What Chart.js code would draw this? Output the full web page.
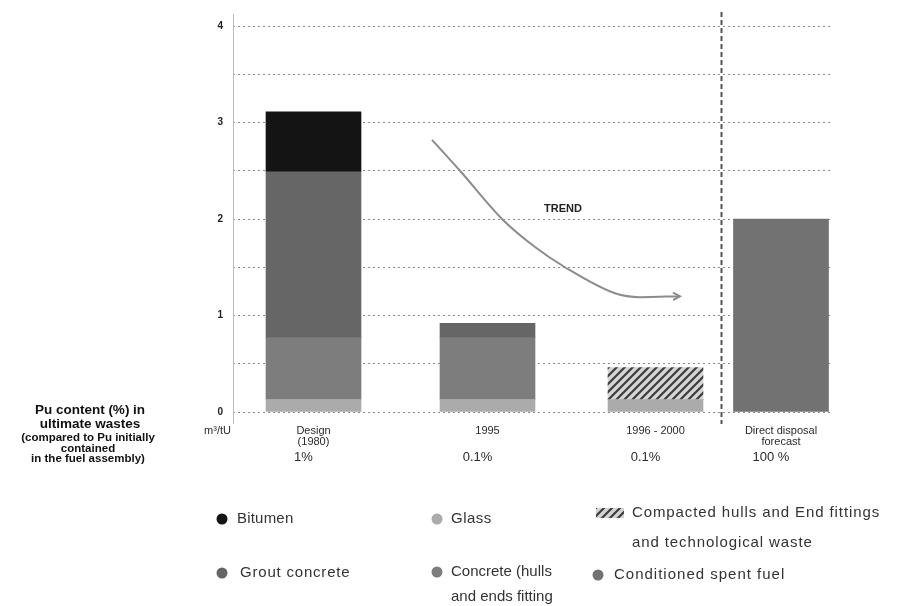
<!DOCTYPE html>
<html>
<head>
<meta charset="utf-8">
<script src="https://cdn.jsdelivr.net/npm/chart.js@4.4.1/dist/chart.umd.min.js"></script>
<style>
  html, body { margin: 0; padding: 0; background: #ffffff; }
  #wrap { width: 903px; height: 606px; }
</style>
</head>
<body>
<div id="wrap"><canvas id="c" width="903" height="606"></canvas></div>
<script>
// ---------- DATA ----------
const catPos = [1.61, 5.09, 8.45, 10.96];
const xLabels = [['Design', '(1980)'], '1995', '1996 - 2000', ['Direct disposal', 'forecast']];
const puContent = ['1%', '0.1%', '0.1%', '100 %'];
const glass         = [0.13, 0.13, 0.13, null];
const concreteHulls = [0.64, 0.64, null, null];
const groutConcrete = [1.72, 0.15, null, null];
const bitumen       = [0.62, null, null, null];
const compacted     = [null, null, 0.33, null];
const spentFuel     = [null, null, null, 2.0];
const trendX = [3.98, 4.54, 5.40, 6.04, 6.64, 7.64, 8.14, 8.94];
const trendY = [2.82, 2.50, 1.99, 1.71, 1.50, 1.23, 1.19, 1.20];
const trendLabel = 'TREND';
const trendLabelPos = [6.6, 2.1];
const separatorX = 9.76;
const unitLabel = 'm³/tU';
const leftTitle = ['Pu content (%) in', 'ultimate wastes'];
const leftNote = ['(compared to Pu initially', 'contained', 'in the fuel assembly)'];

// ---------- STYLES ----------
const FONT = '"Liberation Sans", Arial, sans-serif';
const C = {
  bitumen: '#141414', glass: '#ababab', grout: '#666666', hulls: '#7d7d7d',
  spent: '#727272', grid: '#8a8a8a', text: '#2a2a2a'
};
function hatch() {
  const p = document.createElement('canvas');
  p.width = 8; p.height = 8;
  const g = p.getContext('2d');
  g.fillStyle = '#d4d4d4'; g.fillRect(0, 0, 8, 8);
  g.strokeStyle = '#3c3c3c'; g.lineWidth = 2.2;
  g.beginPath();
  g.moveTo(-2, 10); g.lineTo(10, -2);
  g.moveTo(-2, 2); g.lineTo(2, -2);
  g.moveTo(6, 10); g.lineTo(10, 6);
  g.stroke();
  return g.createPattern(p, 'repeat');
}
const hatchPat = hatch();

const pts = arr => catPos.map((x, i) => ({ x: x, y: arr[i] }));
const barDs = (label, arr, color) => ({
  type: 'bar', label: label, data: pts(arr), backgroundColor: color,
  borderWidth: 0, barThickness: 95, yAxisID: 'y', stack: 's'
});

const datasets = [
  barDs('Glass', glass, C.glass),
  barDs('Concrete (hulls and ends fitting', concreteHulls, C.hulls),
  barDs('Grout concrete', groutConcrete, C.grout),
  barDs('Bitumen', bitumen, C.bitumen),
  barDs('Compacted hulls and End fittings and technological waste', compacted, hatchPat),
  barDs('Conditioned spent fuel', spentFuel, C.spent),
  {
    type: 'line', label: 'trend', data: trendX.map((x, i) => ({ x: x, y: trendY[i] })),
    borderColor: '#8c8c8c', borderWidth: 2, pointRadius: 0, fill: false,
    cubicInterpolationMode: 'monotone', yAxisID: 'y2', stack: 't'
  }
];

const overlay = {
  id: 'overlay',
  beforeDatasetsDraw(chart) {
    const ctx = chart.ctx, x = chart.scales.x, y = chart.scales.y;
    ctx.save();
    ctx.strokeStyle = '#bdbdbd'; ctx.lineWidth = 1;
    ctx.beginPath(); ctx.moveTo(x.left + 0.5, 14); ctx.lineTo(x.left + 0.5, y.bottom + 12); ctx.stroke();
    ctx.restore();
  },
  afterDraw(chart) {
    const ctx = chart.ctx, x = chart.scales.x, y = chart.scales.y;
    ctx.save();
    // separator
    const sx = Math.round(x.getPixelForValue(separatorX)) + 0.5;
    ctx.strokeStyle = '#555'; ctx.lineWidth = 2; ctx.setLineDash([5, 3]);
    ctx.beginPath(); ctx.moveTo(sx, 12); ctx.lineTo(sx, y.bottom + 12); ctx.stroke();
    ctx.setLineDash([]);
    // arrowhead
    const n = trendX.length;
    const ax = x.getPixelForValue(trendX[n - 1]), ay = y.getPixelForValue(trendY[n - 1]);
    const bx = x.getPixelForValue(trendX[n - 2]), by = y.getPixelForValue(trendY[n - 2]);
    const ang = Math.atan2(ay - by, ax - bx);
    ctx.strokeStyle = '#8c8c8c'; ctx.lineWidth = 2;
    ctx.beginPath();
    ctx.moveTo(ax - 8 * Math.cos(ang - 0.5), ay - 8 * Math.sin(ang - 0.5));
    ctx.lineTo(ax, ay);
    ctx.lineTo(ax - 8 * Math.cos(ang + 0.5), ay - 8 * Math.sin(ang + 0.5));
    ctx.stroke();
    // trend label
    ctx.fillStyle = '#222'; ctx.font = 'bold 11px ' + FONT;
    ctx.textAlign = 'center'; ctx.textBaseline = 'middle';
    ctx.fillText(trendLabel, x.getPixelForValue(trendLabelPos[0]), y.getPixelForValue(trendLabelPos[1]));
    // unit
    ctx.font = '11px ' + FONT; ctx.fillStyle = C.text; ctx.textAlign = 'right';
    ctx.fillText(unitLabel, x.left - 2, y.bottom + 19);
    // pu content row
    ctx.font = '13px ' + FONT; ctx.textAlign = 'center';
    puContent.forEach((t, i) => ctx.fillText(t, x.getPixelForValue(catPos[i]) - 10, y.bottom + 45));
    // left text
    ctx.font = 'bold 13.5px ' + FONT; ctx.fillStyle = '#111';
    leftTitle.forEach((t, i) => ctx.fillText(t, 90, 410 + i * 14));
    ctx.font = 'bold 11.5px ' + FONT;
    leftNote.forEach((t, i) => ctx.fillText(t, 88, 438 + i * 10.5));
    // legend
    const L = [
      { k: 'c', c: C.bitumen, x: 222, y: 519, tx: 237, ls: 0.2, t: ['Bitumen'] },
      { k: 'c', c: C.glass, x: 437, y: 519, tx: 451, ls: 0.5, t: ['Glass'] },
      { k: 's', c: hatchPat, x: 610, y: 513, tx: 632, ls: 0.9, t: ['Compacted hulls and End fittings', 'and technological waste'] },
      { k: 'c', c: C.grout, x: 222, y: 573, tx: 240, ls: 0.8, t: ['Grout concrete'] },
      { k: 'c', c: C.hulls, x: 437, y: 572, tx: 451, ls: 0, t: ['Concrete (hulls', 'and ends fitting'] },
      { k: 'c', c: C.spent, x: 598, y: 575, tx: 614, ls: 1.0, t: ['Conditioned spent fuel'] }
    ];
    ctx.font = '15px ' + FONT; ctx.textAlign = 'left';
    L.forEach(e => {
      try { ctx.letterSpacing = e.ls + 'px'; } catch (err) {}
      ctx.fillStyle = e.c;
      if (e.k === 'c') { ctx.beginPath(); ctx.arc(e.x, e.y, 5.5, 0, Math.PI * 2); ctx.fill(); }
      else { ctx.fillRect(e.x - 14, e.y - 5, 28, 10); }
      ctx.fillStyle = '#333';
      e.t.forEach((t, i) => ctx.fillText(t, e.tx, e.y + i * (e.k === 's' ? 30 : 25)));
    });
    try { ctx.letterSpacing = '0px'; } catch (err) {}
    ctx.restore();
  }
};

new Chart(document.getElementById('c'), {
  data: { datasets: datasets },
  options: {
    responsive: false, animation: false, devicePixelRatio: 1,
    layout: { padding: { left: 208, right: 70, top: 26, bottom: 154 } },
    plugins: { legend: { display: false }, tooltip: { enabled: false } },
    scales: {
      x: {
        type: 'linear', min: 0, max: 12, stacked: true, offset: false,
        grid: { display: false }, border: { display: false },
        afterBuildTicks: s => { s.ticks = catPos.map(v => ({ value: v })); },
        afterFit: s => { s.height = 40; },
        ticks: {
          autoSkip: false, maxRotation: 0, padding: 5, color: C.text,
          font: { family: FONT, size: 11, lineHeight: 1.0 },
          callback: (v, i) => xLabels[i]
        }
      },
      y: {
        min: 0, max: 4, stacked: true,
        afterFit: s => { s.width = 25; },
        border: { display: false, dash: [2, 3] },
        grid: { color: C.grid, lineWidth: 1, drawTicks: false },
        ticks: {
          stepSize: 0.5, padding: 10, color: '#222',
          font: { family: FONT, size: 10, weight: 'bold' },
          callback: v => Number.isInteger(v) ? String(v) : ''
        }
      },
      y2: { display: false, min: 0, max: 4, stacked: false }
    }
  },
  plugins: [overlay]
});
</script>
</body>
</html>
